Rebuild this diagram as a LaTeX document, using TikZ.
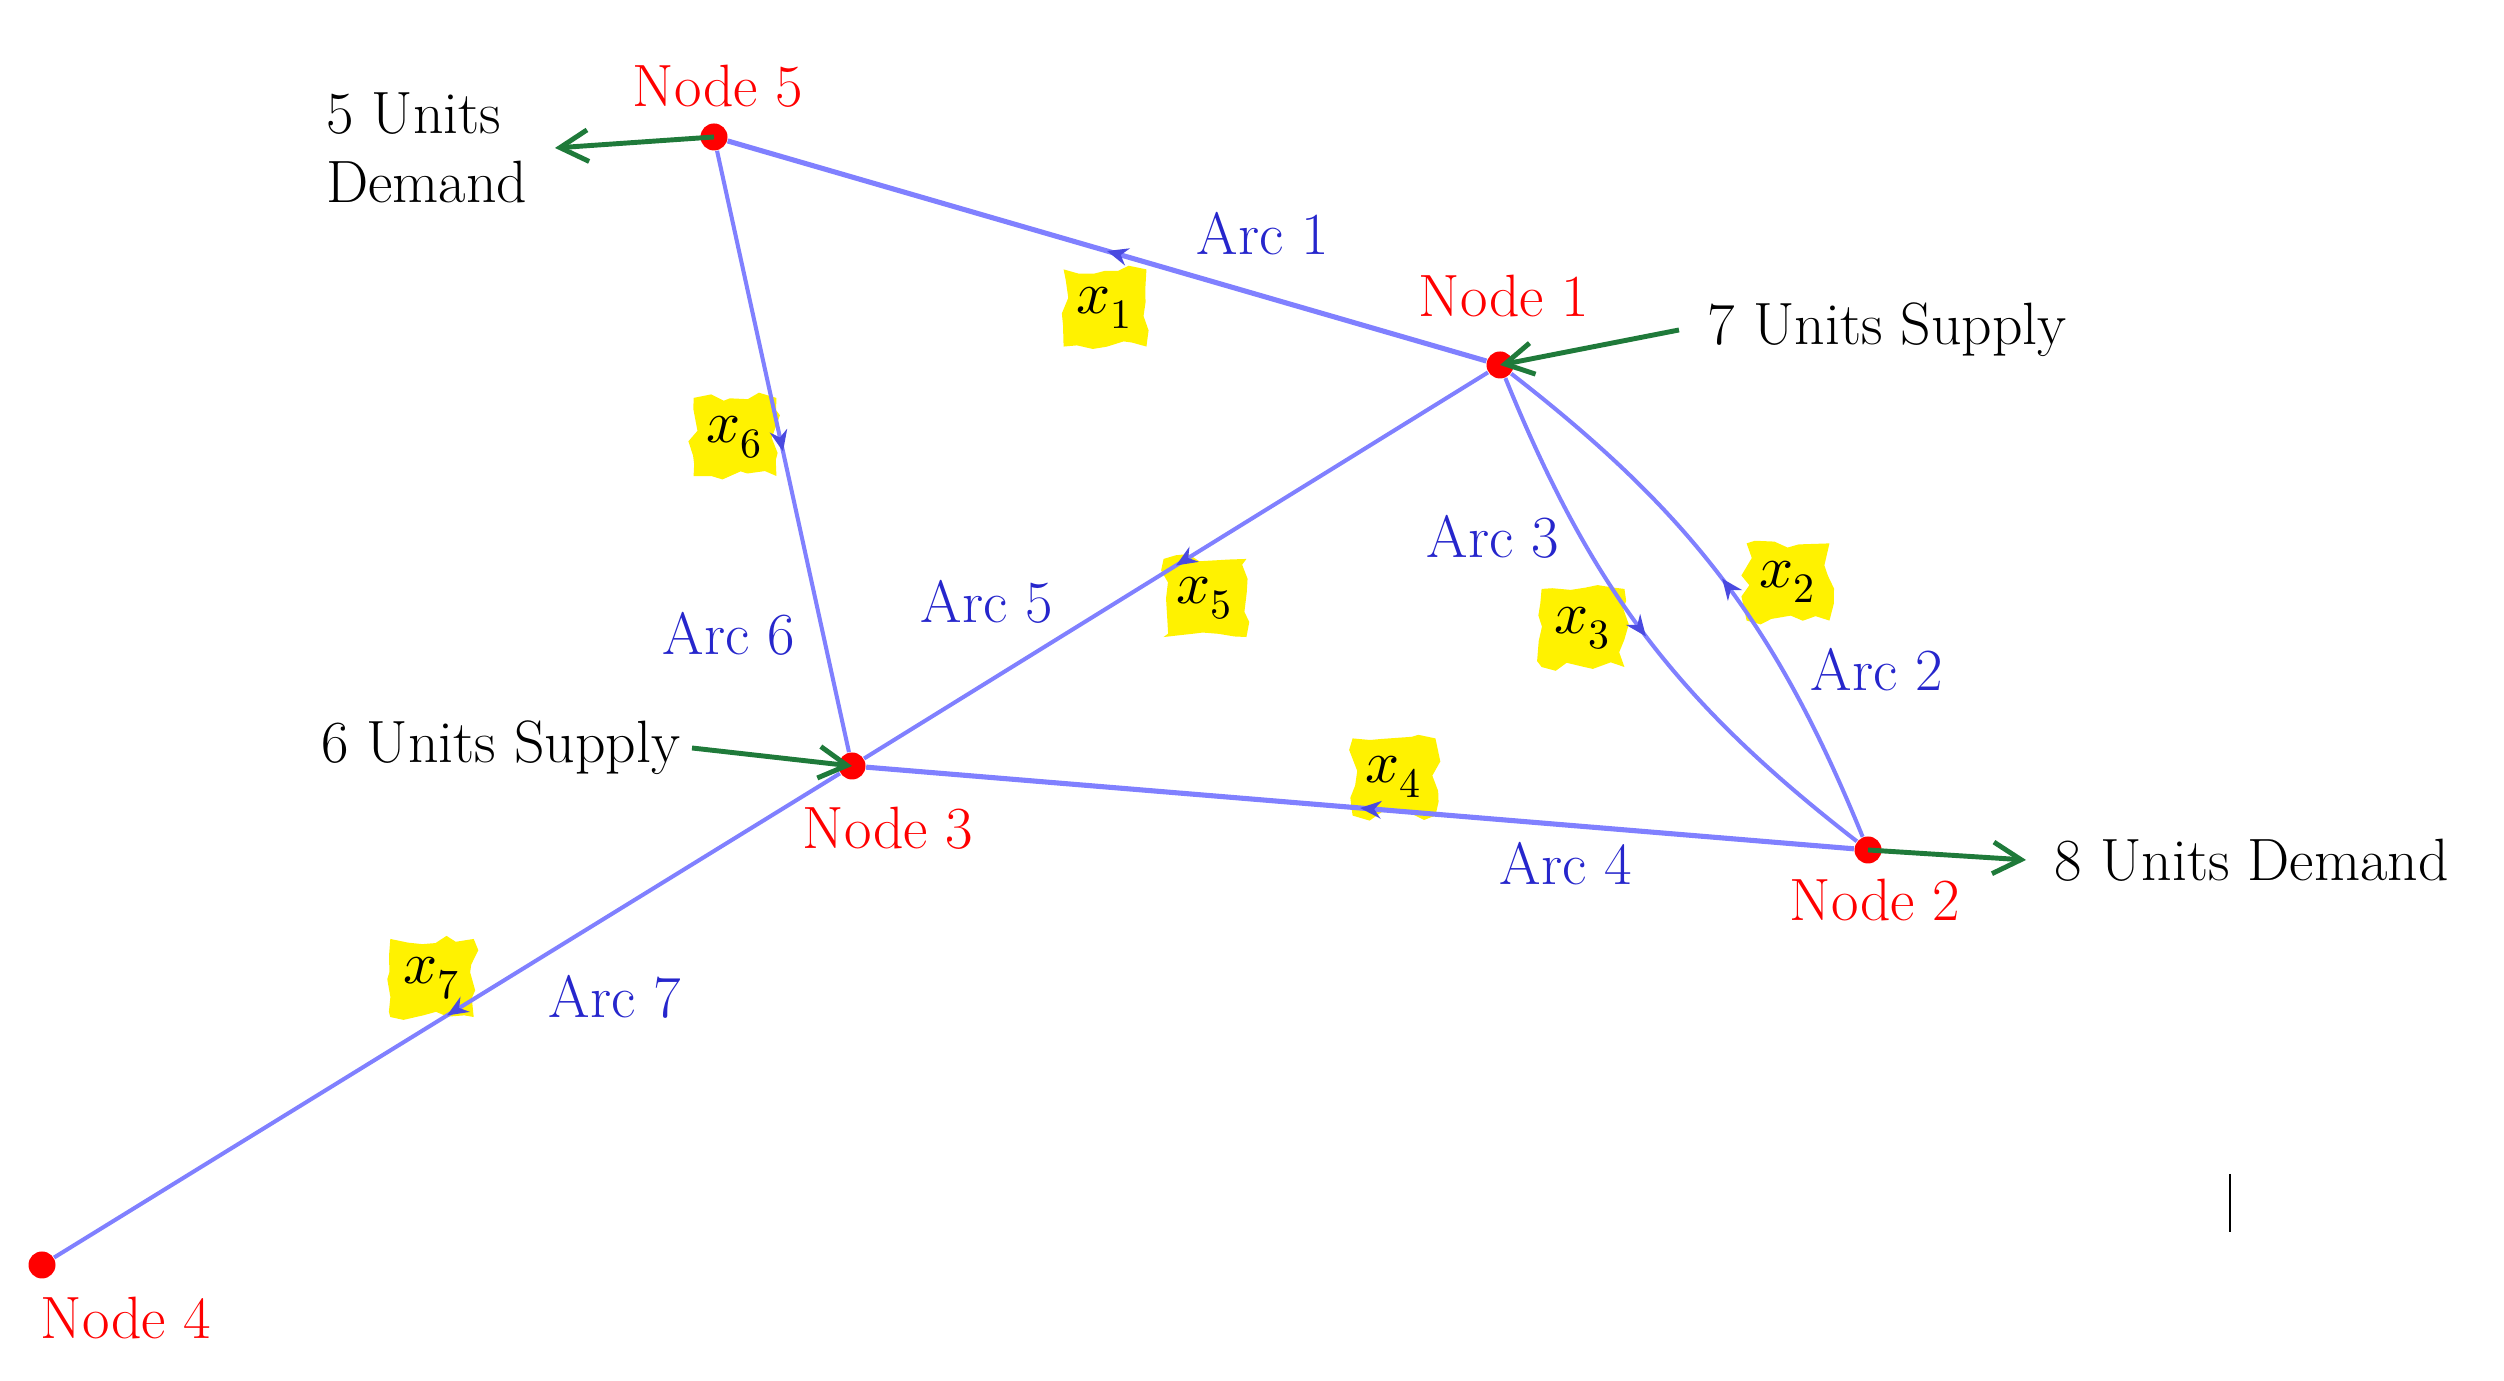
\documentclass[tikz,border=0pt]{standalone}
\usepackage{fontspec}
\usepackage{unicode-math}
\usetikzlibrary{arrows.meta,decorations.markings,decorations.pathmorphing,positioning}
\definecolor{edgeblue}{RGB}{128,128,255}
\definecolor{arcblue}{RGB}{38,38,204}
\definecolor{flowgreen}{RGB}{31,122,58}
\newcommand\diagfont{\fontsize{17}{19.6}\selectfont}
\begin{document}
\begin{tikzpicture}[every node/.style={font=\diagfont},
				dot/.style={circle,fill=red,inner sep=0pt,minimum size=0.27cm},
				nodelbl/.style={text=red,inner sep=0pt},
				arclbl/.style={text=arcblue,inner sep=0pt},
				varlbl/.style={fill=yellow,inner xsep=0.13cm,inner ysep=0.18cm,decorate,
					decoration={random steps,segment length=4pt,amplitude=1.5pt}},
				unitlbl/.style={inner ysep=0pt,align=left},
				arcline/.style={draw=edgeblue,line width=1.15pt,
					decoration={markings,mark=at position 0.5 with {\arrow[arcblue!60!edgeblue]{Stealth[length=6pt,width=5pt]}}},
					postaction={decorate}},
				heavyarc/.style={arcline,line width=1.45pt},
				flow/.style={draw=flowgreen,line width=1.4pt,-{Straight Barb[length=8pt,width=9pt]}}]
\pgfmathsetseed{7}
\useasboundingbox (0,0) rectangle (25.04,13.81);
\node[dot] (n5) at (7.14,12.44) {};
\node[dot] (n1) at (15.00,10.16) {};
\node[dot] (n3) at (8.52,6.15) {};
\node[dot] (n2) at (18.68,5.31) {};
\node[dot] (n4) at (0.42,1.16) {};
\node[nodelbl] (l5) at (7.18,12.95) {Node 5};
\node[nodelbl] (l1) at (15.04,10.85) {Node 1};
\node[nodelbl] (l3) at (8.88,5.53) {Node 3};
\node[nodelbl] (l2) at (18.75,4.81) {Node 2};
\node[nodelbl] (l4) at (1.26,0.63) {Node 4};
\node[varlbl] (x1) at (11.05,10.73) {$x_1$};
\node[varlbl] (x2) at (17.88,7.99) {$x_2$};
\node[varlbl] (x3) at (15.83,7.53) {$x_3$};
\node[varlbl] (x4) at (13.94,6.04) {$x_4$};
\node[varlbl] (x5) at (12.05,7.83) {$x_5$};
\node[varlbl] (x6) at (7.35,9.44) {$x_6$};
\node[varlbl] (x7) at (4.32,4.03) {$x_7$};
\draw[heavyarc] (n1) -- (n5);
\draw[arcline] (n2) to[bend right=15] (n1);
\draw[arcline] (n1) to[bend right=15] (n2);
\draw[heavyarc] (n2) -- (n3);
\draw[arcline] (n1) -- (n3);
\draw[arcline] (n5) -- (n3);
\draw[arcline] (n3) -- (n4);
\node[arclbl] (a1) at (12.63,11.47) {Arc 1};
\node[arclbl] (a2) at (18.77,7.11) {Arc 2};
\node[arclbl] (a3) at (14.93,8.44) {Arc 3};
\node[arclbl] (a4) at (15.66,5.17) {Arc 4};
\node[arclbl] (a5) at (9.87,7.79) {Arc 5};
\node[arclbl] (a6) at (7.29,7.47) {Arc 6};
\node[arclbl] (a7) at (6.15,3.84) {Arc 7};
\node[unitlbl,inner xsep=0.27cm,anchor=east] (d5) at (5.55,12.33) {5 Units\\Demand};
\node[unitlbl,inner xsep=0.28cm,anchor=west] (s7) at (16.79,10.51) {7 Units Supply};
\node[unitlbl,inner xsep=0.11cm,anchor=east] (s6) at (6.92,6.33) {6 Units Supply};
\node[unitlbl,inner xsep=0.28cm,anchor=west] (d8) at (20.26,5.21) {8 Units Demand};
\draw[flow] (n5.center) -- (d5.east);
\draw[flow] (s7.west) -- (n1.center);
\draw[flow] (s6.east) -- (n3.center);
\draw[flow] (n2.center) -- (d8.west);
\coordinate (c1) at (22.30,2.07);
\coordinate (c2) at (22.30,1.49);
\draw[line width=0.45pt] (c1) -- (c2);
\end{tikzpicture}
\end{document}
